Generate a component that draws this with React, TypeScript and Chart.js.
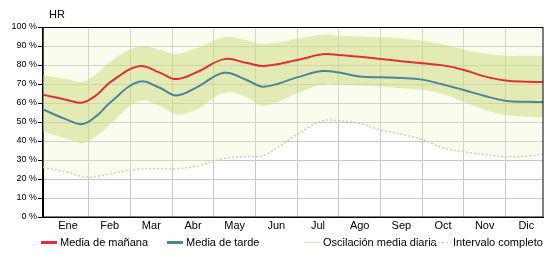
import React, { useEffect, useRef } from "react";
import { Chart, registerables } from "chart.js";

Chart.register(...registerables);

const MONTHS = ["Ene", "Feb", "Mar", "Abr", "May", "Jun", "Jul", "Ago", "Sep", "Oct", "Nov", "Dic"];
const MONTH_POS = [0.5, 1.5, 2.5, 3.5, 4.5, 5.5, 6.5, 7.5, 8.5, 9.5, 10.5, 11.5];
const MONTH_EDGES = [1, 2, 3, 4, 5, 6, 7, 8, 9, 10, 11];
const Y_TICKS = [0, 10, 20, 30, 40, 50, 60, 70, 80, 90, 100];

// positions along the year (in months)
const XS = [-0.1, 0.5, 0.85, 1.2, 1.5, 2.2, 2.7, 3.1, 3.6, 4.25, 4.8, 5.2, 6.0, 6.6, 7.0, 7.5, 8.0, 8.5, 9.0, 9.5, 10.0, 10.5, 11.0, 11.5, 11.9];

const MORNING = [64.3, 61.5, 60.3, 64.5, 70.7, 79.4, 76.0, 72.6, 76.3, 83.1, 81.0, 79.5, 82.6, 85.6, 85.3, 84.3, 83.2, 82.0, 80.9, 79.8, 77.4, 74.0, 71.8, 71.2, 71.1];
const AFTERNOON = [56.6, 51.0, 48.9, 53.5, 60.0, 71.2, 68.0, 64.0, 68.4, 75.9, 72.0, 68.6, 73.5, 76.8, 76.0, 73.9, 73.5, 73.2, 72.3, 69.7, 66.8, 63.7, 61.2, 60.6, 60.5];
const OSC_HIGH = [74.8, 72.5, 71.2, 75.5, 81.5, 89.7, 88.0, 85.8, 89.0, 94.5, 93.0, 91.0, 93.8, 95.8, 95.4, 95.0, 94.6, 94.0, 92.8, 90.8, 88.2, 86.0, 84.9, 84.9, 84.9];
const OSC_LOW = [45.0, 41.0, 38.8, 43.0, 48.5, 61.0, 58.5, 54.0, 56.7, 65.5, 63.0, 58.4, 65.1, 69.8, 69.8, 69.2, 68.6, 67.8, 66.8, 64.7, 60.7, 56.5, 53.7, 52.8, 52.5];
const RANGE_LOW = [26.0, 23.5, 21.3, 21.4, 22.7, 25.1, 25.4, 25.4, 26.8, 30.8, 31.8, 32.4, 43.5, 50.5, 50.7, 49.2, 45.8, 43.5, 40.8, 36.4, 34.4, 32.8, 31.7, 32.0, 33.0];

const RED = "rgb(226, 46, 56)";
const BLUE = "rgb(74, 134, 156)";
const BAND = "rgba(200, 216, 120, 0.48)";
const BAND_LEGEND = "rgb(222, 230, 176)";
const RANGE_FILL = "rgba(238, 245, 198, 0.32)";
const DOT = "rgb(214, 206, 172)";
const GRID = "#c8c8c8";
const FONT = "'Liberation Sans', Arial, sans-serif";

const pts = (vals: number[]) => XS.map((x, i) => ({ x, y: vals[i] }));

const extrasPlugin = {
  id: "extras",
  afterDraw(chart: any) {
    const { ctx, chartArea } = chart;
    ctx.save();
    ctx.strokeStyle = "#000";
    ctx.lineWidth = 1;
    ctx.strokeRect(Math.round(chartArea.left) - 0.5, Math.round(chartArea.top) + 0.5, Math.round(chartArea.right - chartArea.left) + 0.5, Math.round(chartArea.bottom - chartArea.top) - 0.5);
    ctx.fillStyle = "#000";
    ctx.font = `11px ${FONT}`;
    ctx.textBaseline = "middle";
    ctx.textAlign = "left";
    ctx.fillText("HR", 49, 15);
    const ly = 242.5;
    const items = [
      { x: 41, text: "Media de mañana", color: RED, width: 3, dash: [] as number[] },
      { x: 167, text: "Media de tarde", color: BLUE, width: 3, dash: [] as number[] },
      { x: 304, text: "Oscilación media diaria", color: BAND_LEGEND, width: 1, dash: [] as number[] },
      { x: 434, text: "Intervalo completo", color: DOT, width: 1, dash: [2, 2] },
    ];
    for (const it of items) {
      ctx.beginPath();
      ctx.setLineDash(it.dash);
      ctx.strokeStyle = it.color;
      ctx.lineWidth = it.width;
      ctx.moveTo(it.x, ly);
      ctx.lineTo(it.x + 16, ly);
      ctx.stroke();
      ctx.setLineDash([]);
      ctx.fillStyle = "#000";
      ctx.fillText(it.text, it.x + 19, ly);
    }
    ctx.restore();
  },
};

export default function App() {
  const ref = useRef<HTMLCanvasElement | null>(null);

  useEffect(() => {
    if (!ref.current) return;
    const common = { pointRadius: 0, tension: 0.4 };
    const chart = new Chart(ref.current, {
      type: "line",
      data: {
        datasets: [
          { label: "Media de mañana", data: pts(MORNING), borderColor: RED, borderWidth: 2, fill: false, order: 0, ...common },
          { label: "Media de tarde", data: pts(AFTERNOON), borderColor: BLUE, borderWidth: 2, fill: false, order: 1, ...common },
          { label: "osc-high", data: pts(OSC_HIGH), borderWidth: 0, borderColor: "rgba(0,0,0,0)", fill: false, order: 2, ...common },
          { label: "Oscilación media diaria", data: pts(OSC_LOW), borderWidth: 0, borderColor: "rgba(0,0,0,0)", backgroundColor: BAND, fill: "-1", order: 3, ...common },
          { label: "Intervalo completo", data: pts(RANGE_LOW), borderWidth: 1.5, borderColor: DOT, borderDash: [2, 2], backgroundColor: RANGE_FILL, fill: "end", order: 4, ...common },
        ],
      },
      options: {
        animation: false,
        responsive: false,
        devicePixelRatio: 1,
        layout: { padding: { left: 0, top: 27, right: 17, bottom: 0 } },
        plugins: { legend: { display: false }, tooltip: { enabled: false }, title: { display: false } },
        scales: {
          x: {
            type: "linear",
            position: "bottom",
            min: -0.1,
            max: 11.9,
            afterBuildTicks: (s: any) => {
              s.ticks = MONTH_EDGES.map((v) => ({ value: v }));
            },
            afterFit: (s: any) => {
              s.height = 0;
            },
            ticks: { display: false },
            grid: { color: GRID, drawTicks: false, lineWidth: 1 },
            border: { display: true, color: "#000" },
          },
          xl: {
            type: "linear",
            position: "bottom",
            min: -0.1,
            max: 11.9,
            afterBuildTicks: (s: any) => {
              s.ticks = MONTH_POS.map((v) => ({ value: v }));
            },
            afterFit: (s: any) => {
              s.height = 43;
            },
            ticks: {
              autoSkip: false,
              maxRotation: 0,
              padding: 2,
              color: "#000",
              font: { family: FONT, size: 11 },
              callback: (v: any) => {
                const i = MONTH_POS.indexOf(Number(v));
                return i >= 0 ? MONTHS[i] : "";
              },
            },
            grid: { display: false, drawTicks: false },
            border: { display: false },
          },
          y: {
            type: "linear",
            min: 0,
            max: 100,
            afterBuildTicks: (s: any) => {
              s.ticks = Y_TICKS.map((v) => ({ value: v }));
            },
            afterFit: (s: any) => {
              s.width = 43;
            },
            ticks: {
              padding: 1,
              color: "#000",
              font: { family: FONT, size: 9 },
              callback: (v: any) => `${v} %`,
            },
            grid: { color: GRID, tickColor: "#000", tickLength: 5, lineWidth: 1 },
            border: { display: true, color: "#000" },
          },
        },
      },
      plugins: [extrasPlugin],
    } as any);
    return () => chart.destroy();
  }, []);

  return (
    <div style={{ position: "fixed", left: 0, top: 0, width: 560, height: 260, background: "#fff" }}>
      <canvas ref={ref} width={560} height={260} style={{ display: "block", width: 560, height: 260 }} />
    </div>
  );
}
